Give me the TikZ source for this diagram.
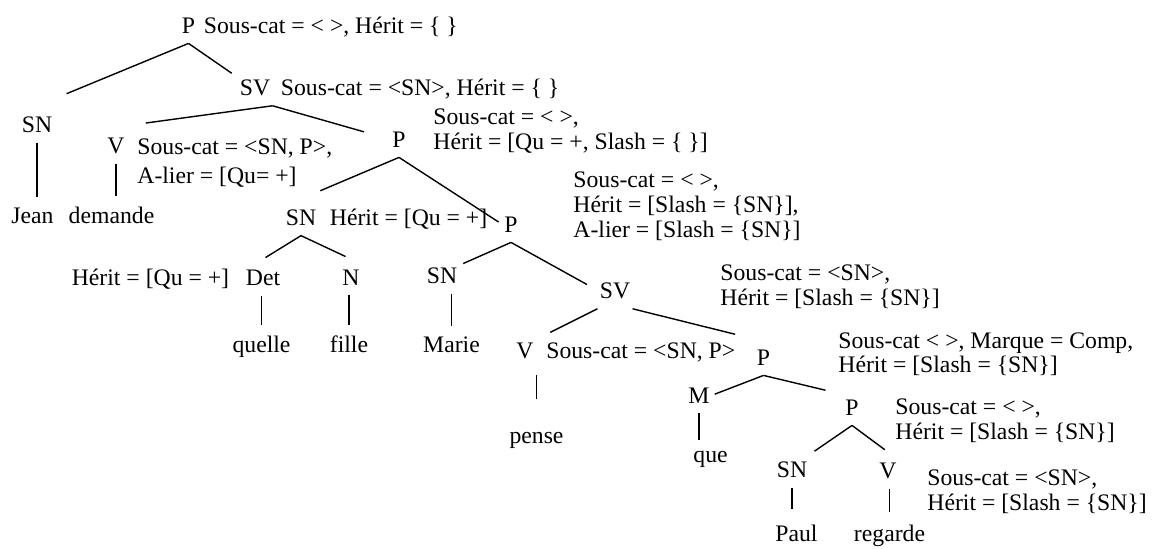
\documentclass[tikz,border=0pt]{standalone}
\usepackage{fontspec}
\setmainfont{Liberation Serif}
\usetikzlibrary{positioning}

\begin{document}
\begin{tikzpicture}[
  x=0.5pt, y=-0.5pt,
  font=\fontsize{11.85}{12.5}\selectfont,
  cat/.style={inner xsep=1pt, inner ysep=5pt, anchor=base},
  word/.style={inner xsep=1pt, inner ysep=5pt, anchor=base},
  feat/.style={inner sep=0pt, align=left, anchor=base west},
  branch/.style={draw, line width=0.7pt, shorten >=#1},
  branch/.default=0pt,
  stem/.style={draw, line width=0.7pt},
]
\useasboundingbox (0,0) rectangle (1154,548);

% categories
\node[cat] (p0)  at (188.5,33) {P};
\node[cat] (sv1) at (255,95)   {SV};
\node[cat] (sn1) at (37,132)   {SN};
\node[cat] (v1)  at (116,153)  {V};
\node[cat] (p2)  at (399,147)  {P};
\node[cat] (sn2) at (301,225)  {SN};
\node[cat] (p3)  at (511,232)  {P};
\node[cat] (det) at (263,285)  {Det};
\node[cat] (n)   at (351,285)  {N};
\node[cat] (sn3) at (442,283)  {SN};
\node[cat] (sv2) at (615,298)  {SV};
\node[cat] (v2)  at (525,358)  {V};
\node[cat] (p4)  at (763.5,365) {P};
\node[cat] (m)   at (699,403)  {M};
\node[cat] (p5)  at (852,415)  {P};
\node[cat] (sn4) at (792,477)  {SN};
\node[cat] (v3)  at (888,478)  {V};

% words
\node[word] (jean)    at (32.5,223)  {Jean};
\node[word] (demande) at (111.5,223) {demande};
\node[word] (quelle)  at (261.5,352) {quelle};
\node[word] (fille)   at (349,352)   {fille};
\node[word] (marie)   at (451.5,352) {Marie};
\node[word] (pense)   at (536.5,443) {pense};
\node[word] (que)     at (710.5,462) {que};
\node[word] (paul)    at (796.5,541) {Paul};
\node[word] (regarde) at (889.5,541) {regarde};

% features (a multi-line node sits on the baseline of its last line)
\node[feat, base right=3pt of p0] (p0f) {Sous-cat = < >, Hérit = \{ \}};
\node[feat, base right=4pt of sv1] (sv1f) {Sous-cat = <SN>, Hérit = \{ \}};
\node[feat, font=\fontsize{11.85}{14.5}\selectfont] (v1f) at (137,183)
  {Sous-cat = <SN, P>,\\A-lier = [Qu= +]};
\node[feat] (p2f) at (433,149) {Sous-cat = < >,\\Hérit = [Qu = +, Slash = \{ \}]};
\node[feat, base right=5.5pt of sn2] (sn2f) {Hérit = [Qu = +]};
\node[feat, base left=7pt of det] (detf) {Hérit = [Qu = +]};
\node[feat] (p3f) at (573,237)
  {Sous-cat = < >,\\Hérit = [Slash = \{SN\}],\\A-lier = [Slash = \{SN\}]};
\node[feat] (sv2f) at (720,305) {Sous-cat = <SN>,\\Hérit = [Slash = \{SN\}]};
\node[feat, base right=5pt of v2] (v2f) {Sous-cat = <SN, P>};
\node[feat, font=\fontsize{11.85}{10.5}\selectfont] (p4f) at (838,372)
  {Sous-cat < >, Marque = Comp,\\Hérit = [Slash = \{SN\}]};
\node[feat] (p5f) at (895,439) {Sous-cat = < >,\\Hérit = [Slash = \{SN\}]};
\node[feat] (v3f) at (927,510) {Sous-cat = <SN>,\\Hérit = [Slash = \{SN\}]};

% branches
\draw[branch=16pt]   (p0.south) -- (sn1.north);
\draw[branch=3.5pt]  (p0.south) -- (sv1.150);
\draw[branch=15pt]   (sv1.south east) -- (v1.north);
\draw[branch=13.5pt] (sv1.south east) -- (p2.west);
\draw[branch=10.5pt] (p2.south) -- (sn2.north);
\draw[branch=2pt]    (p2.south) -- (p3.west);
\draw[branch=1.5pt]  (sn2.south) -- (det.north);
\draw[branch=3pt]    (sn2.south) -- (n.north);
\draw[branch=2pt]    (p3.south) -- (sn3.30);
\draw[branch=6pt]    (p3.south) -- (sv2.west);
\draw[branch=8pt]    (sv2.south west) -- (v2.45);
\draw[branch=10pt]   (sv2.south east) -- (p4.north west);
\draw[branch=1.5pt]  (p4.south) -- (m.east);
\draw[branch=9pt]    (p4.south) -- (p5.125);
\draw[branch=3pt]    (p5.south) -- (sn4.40);
\draw[branch=2pt]    (p5.south) -- (v3.north);

% stems to the words
\draw[stem] (sn1.south) -- (sn1.south |- jean.north);
\draw[stem] (v1.south) -- (v1.south |- demande.north);
\draw[stem] (quelle.north |- det.south) -- (quelle.north);
\draw[stem] (fille.north |- n.south) -- (fille.north);
\draw[stem] (marie.north |- sn3.south) -- (marie.north);
\draw[stem, shorten <=3pt, shorten >=11pt] (pense.north |- v2.south) -- (pense.north);
\draw[stem] (m.south) -- (m.south |- que.north);
\draw[stem, shorten >=2.5pt] (sn4.south) -- (sn4.south |- paul.north);
\draw[stem, shorten >=1pt] (regarde.north |- v3.south) -- (regarde.north);

\end{tikzpicture}
\end{document}
